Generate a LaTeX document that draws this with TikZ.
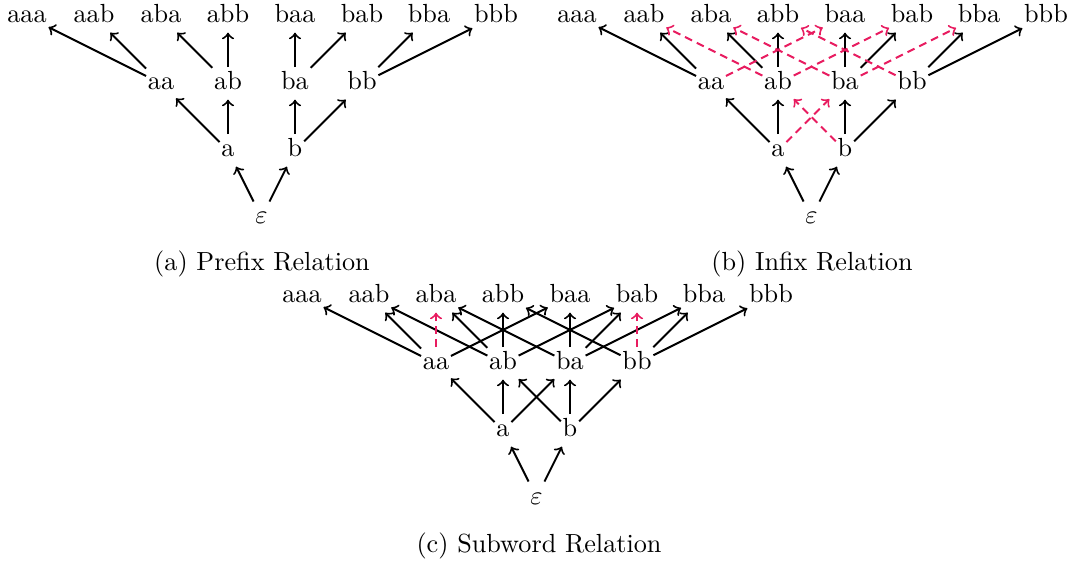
\documentclass[tikz,border=0pt]{standalone}
\usetikzlibrary{arrows}
\definecolor{dashred}{RGB}{232,28,96}
\tikzset{
  wnode/.style={anchor=base, inner xsep=0.5pt, inner ysep=3pt, text height=5.5pt, text depth=0.5pt},
  arr/.style={->, line width=0.75pt, black},
  rarr/.style={->, line width=0.75pt, dashred, dash pattern=on 3pt off 2pt},
  caption/.style={anchor=base, inner sep=0pt}
}
\newcommand\wordnodes[3]{%
  \foreach \w [count=\i from 0] in {aaa,aab,aba,abb,baa,bab,bba,bbb}
    \node[wnode] (#1\w) at (27+67*\i+#2, 23+#3) {\w};
  \foreach \w [count=\i from 0] in {aa,ab,ba,bb}
    \node[wnode] (#1\w) at (161+67*\i+#2, 90+#3) {\w};
  \foreach \w [count=\i from 0] in {a,b}
    \node[wnode] (#1\w) at (228+67*\i+#2, 157+#3) {\w};
  \node[wnode] (#1eps) at (261.5+#2, 224+#3) {$\varepsilon$};
}
\begin{document}
\begin{tikzpicture}[x=0.3817pt, y=-0.3817pt]
\useasboundingbox (0,0) rectangle (1072,563);
% panel (a)
\wordnodes{A}{0}{0}
\foreach \s/\t in {eps/a, eps/b, a/aa, a/ab, b/ba, b/bb, aa/aaa, aa/aab, ab/aba, ab/abb, ba/baa, ba/bab, bb/bba, bb/bbb}
  \draw[arr] (A\s) -- (A\t);
\node[caption] (capA) at (262, 271) {(a) Prefix Relation};
% panel (b)
\wordnodes{B}{550}{0}
\foreach \s/\t in {eps/a, eps/b, a/aa, a/ab, b/ba, b/bb, aa/aaa, aa/aab, ab/aba, ab/abb, ba/baa, ba/bab, bb/bba, bb/bbb}
  \draw[arr] (B\s) -- (B\t);
\foreach \s/\t in {a/ba, b/ab, aa/baa, ab/bab, ba/bba, ab/aab, ba/aba, bb/abb}
  \draw[rarr] (B\s) -- (B\t);
\node[caption] (capB) at (812, 271) {(b) Infix Relation};
% panel (c)
\wordnodes{C}{275}{280}
\foreach \s/\t in {eps/a, eps/b, a/aa, a/ab, a/ba, b/ab, b/ba, b/bb,
  aa/aaa, aa/aab, aa/baa, ab/aab, ab/aba, ab/abb, ab/bab,
  ba/aba, ba/baa, ba/bab, ba/bba, bb/abb, bb/bba, bb/bbb}
  \draw[arr] (C\s) -- (C\t);
\foreach \s/\t in {aa/aba, bb/bab}
  \draw[rarr] (C\s) -- (C\t);
\node[caption] (capC) at (539, 552) {(c) Subword Relation};
\end{tikzpicture}
\end{document}
